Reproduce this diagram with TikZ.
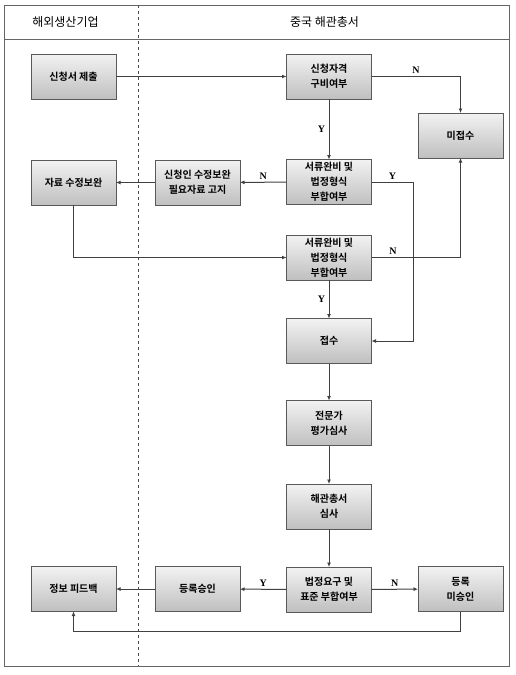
\documentclass[tikz,border=0pt]{standalone}
\usepackage{fontspec}
\setmainfont{Noto Sans CJK KR}[BoldFont={Noto Sans CJK KR Bold}]
\newfontfamily\ynfont{Liberation Serif}
\usetikzlibrary{arrows.meta}

\begin{document}
\begin{tikzpicture}[x=1pt,y=-1pt,inner sep=0pt,outer sep=0pt,
procbox/.style={draw=black!65,line width=0.8pt,rectangle,top color=black!5,bottom color=black!25,minimum width=85pt,minimum height=45pt,align=center,font=\bfseries\fontsize{10}{15}\selectfont},
flow/.style={draw=black!75,line width=1pt,-{Latex[length=4.5pt,width=4pt]}},
yn/.style={font=\ynfont\bfseries\fontsize{10}{10}\selectfont},
lane/.style={font=\fontsize{12}{14}\selectfont}]
\useasboundingbox (0,0) rectangle (515,675);
% frame and swimlanes
\draw[black!60,line width=0.8pt] (4.5,5) rectangle (509.5,666);
\draw[black!60,line width=0.8pt] (4.5,39) -- (509.5,39);
\draw[black!70,dashed,line width=0.5pt] (138,5) -- (138,666);
\draw (65.5,22) node[lane] (corp) {해외생산기업};
\draw (324.5,22) node[lane] (gacc) {중국 해관총서};
% boxes
\draw (73.5,76.5) node[procbox] (submit) {신청서 제출};
\draw (329,76.5) node[procbox] (qual) {신청자격\\구비여부};
\draw (460.5,135.5) node[procbox] (reject) {미접수};
\draw (73.5,182.5) node[procbox] (revise) {자료 수정보완};
\draw (197.5,182.5) node[procbox] (notice) {신청인 수정보완\\필요자료 고지};
\draw (329,182) node[procbox] (docs1) {서류완비 및\\법정형식\\부합여부};
\draw (329,257.5) node[procbox] (docs2) {서류완비 및\\법정형식\\부합여부};
\draw (329,341) node[procbox] (accept) {접수};
\draw (329,423) node[procbox] (expert) {전문가\\평가심사};
\draw (329,506.5) node[procbox] (customs) {해관총서\\심사};
\draw (329,589.5) node[procbox] (legal) {법정요구 및\\표준 부합여부};
\draw (73.5,589) node[procbox] (feedback) {정보 피드백};
\draw (197.5,589) node[procbox] (approve) {등록승인};
\draw (460.5,589) node[procbox] (deny) {등록\\미승인};
% connectors
\draw[flow] (submit) -- (qual);
\draw[flow] (qual.east) -| (reject.north) node[pos=0.25,above=3pt,yn] {N};
\draw[flow] (qual) -- (docs1) node[midway,left=4pt,yn] {Y};
\draw[flow] (docs1) -- (notice) node[midway,above=3pt,yn] {N};
\draw[flow] (notice) -- (revise);
\draw[flow] (docs1.east) -- ++(42,0) node[midway,above=3pt,yn] {Y} |- (accept.east);
\draw[flow] (revise.south) |- (docs2.west);
\draw[flow] (docs2.east) -| (reject.south) node[pos=0.12,above=3pt,yn] {N};
\draw[flow] (docs2) -- (accept) node[midway,left=4pt,yn] {Y};
\draw[flow] (accept) -- (expert);
\draw[flow] (expert) -- (customs);
\draw[flow] (customs) -- (legal);
\draw[flow] (legal) -- (approve) node[midway,above=3pt,yn] {Y};
\draw[flow] (approve) -- (feedback);
\draw[flow] (legal) -- (deny) node[midway,above=3pt,yn] {N};
\draw[flow] (deny.south) -- ++(0,20) -| (feedback.south);
\end{tikzpicture}
\end{document}
